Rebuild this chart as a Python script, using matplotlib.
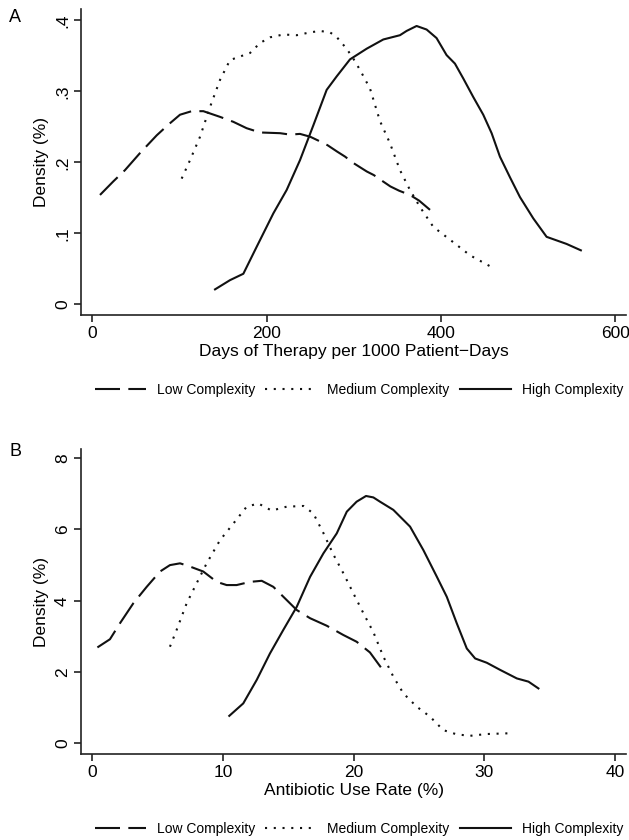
import matplotlib
matplotlib.use("Agg")
import matplotlib.pyplot as plt

plt.rcParams['font.family'] = ['Liberation Sans', 'DejaVu Sans']

# ---- panel A: days of therapy per 1000 patient-days ----
a_low_x = [8.8, 24, 37.5, 54.7, 73.9, 87.2, 100.6, 114, 127.4, 146.5, 161.8, 177.1,
           192.4, 215.4, 226.9, 238.3, 250, 262, 270, 281, 290, 299.5, 315, 323,
           330, 342, 352, 364.5, 375, 387.5]
a_low_y = [.154, .173, .189, .213, .238, .253, .267, .272, .272, .264, .257, .248,
           .242, .241, .239, .240, .236, .229, .224, .215, .208, .199, .187, .182,
           .176, .166, .160, .154, .146, .133]

a_med_x = [102.5, 112.1, 123.6, 135.1, 146.5, 158, 169.5, 181, 192.4, 203.9, 219.2,
           234.5, 249.8, 261.3, 272.7, 280, 291.8, 300, 307.2, 318.6, 330.1, 341.5,
           353, 364.5, 376, 391.3, 410.4, 433.4, 460.2]
a_med_y = [.177, .203, .236, .278, .316, .344, .349, .354, .368, .376, .380,
           .379, .383, .385, .383, .377, .360, .345, .330, .304, .258, .227,
           .189, .161, .137, .109, .091, .069, .051]

a_high_x = [140.8, 158, 173.3, 188.6, 207.7, 223, 238.3, 253.6, 268.9, 280.4, 295.7,
            314.8, 333.9, 353, 360.6, 372.1, 383.6, 395, 406.5, 416.1, 425.7, 437.1,
            448.6, 458.2, 467.7, 479.2, 490.7, 506, 521.3, 544.2, 560.6]
a_high_y = [.021, .034, .043, .081, .128, .161, .203, .252, .302, .321, .345,
            .360, .373, .379, .385, .392, .387, .375, .351, .339, .318, .292,
            .267, .241, .208, .179, .151, .121, .095, .085, .076]

a_xticks = [0, 200, 400, 600]
a_yticks = [0, .1, .2, .3, .4]
a_ytick_labels = ["0", ".1", ".2", ".3", ".4"]

# ---- panel B: antibiotic use rate ----
b_low_x = [0.39, 1.35, 2.12, 3.14, 4.16, 5.18, 5.94, 6.71, 7.47, 8.49, 9.52, 10.28,
           11.04, 12.07, 12.96, 13.85, 14.87, 15.64, 16.66, 17.93, 19.2, 20.22,
           21.24, 22.1]
b_low_y = [2.69, 2.92, 3.37, 3.93, 4.39, 4.82, 5.00, 5.05, 4.96, 4.82, 4.53, 4.44,
           4.44, 4.53, 4.56, 4.39, 4.02, 3.74, 3.51, 3.30, 3.04, 2.85, 2.55, 2.12]

b_med_x = [5.94, 6.45, 7.22, 7.98, 8.75, 9.77, 10.8, 11.81, 12.7, 13.72, 14.87,
           16.15, 16.91, 17.68, 18.44, 19.21, 19.97, 20.74, 21.5, 22.27, 23.03,
           23.8, 24.81, 25.83, 26.85, 27.88, 28.9, 30.17, 31.83]
b_med_y = [2.71, 3.18, 3.93, 4.49, 5.05, 5.70, 6.17, 6.64, 6.73, 6.53, 6.64,
           6.66, 6.45, 5.90, 5.30, 4.77, 4.21, 3.65, 3.12, 2.43, 1.87,
           1.40, 1.03, 0.75, 0.37, 0.25, 0.21, 0.26, 0.28]

b_high_x = [10.48, 11.55, 12.58, 13.59, 14.61, 15.64, 16.66, 17.68, 18.7, 19.47,
            20.22, 20.94, 21.5, 22.01, 23.03, 24.31, 25.33, 26.35, 27.12, 27.88,
            28.65, 29.29, 30.18, 31.2, 32.48, 33.37, 34.13]
b_high_y = [0.77, 1.12, 1.78, 2.52, 3.18, 3.83, 4.67, 5.33, 5.89, 6.50,
            6.78, 6.94, 6.90, 6.78, 6.55, 6.08, 5.42, 4.68, 4.11, 3.37,
            2.66, 2.38, 2.26, 2.06, 1.82, 1.73, 1.54]

b_xticks = [0, 10, 20, 30, 40]
b_yticks = [0, 2, 4, 6, 8]
b_ytick_labels = ["0", "2", "4", "6", "8"]

series_names = ["Low Complexity", "Medium Complexity", "High Complexity"]

W, H = 629, 840
fig = plt.figure(figsize=(W / 100, H / 100), dpi=100)

col = "#111111"
styles = [(0, (12, 4)), (0, (1, 3.2)), "-"]


def panel(rect, curves, xlim, ylim, xticks, yticks, ylabels, xlabel):
    ax = fig.add_axes(rect)
    for (x, y), ls, name in zip(curves, styles, series_names):
        ax.plot(x, y, color=col, lw=1.5, ls=ls, label=name)
    ax.set_xlim(*xlim)
    ax.set_ylim(*ylim)
    ax.set_xticks(xticks)
    ax.set_yticks(yticks)
    ax.set_yticklabels(ylabels, rotation=90, va="center")
    for s in ["top", "right"]:
        ax.spines[s].set_visible(False)
    for s in ["left", "bottom"]:
        ax.spines[s].set_linewidth(1.2)
        ax.spines[s].set_color("#222222")
    ax.tick_params(direction="out", length=5, width=1.2, color="#222222",
                   labelsize=12.5, pad=3)
    ax.set_xlabel(xlabel, fontsize=12.5, labelpad=2)
    ax.set_ylabel("Density (%)", fontsize=12.5, labelpad=4)
    # legend below the axis, same spread as the original
    ax.legend(loc="center", bbox_to_anchor=(0.51, -0.245), ncol=3, frameon=False,
              fontsize=10, handlelength=3.7, handletextpad=0.75,
              columnspacing=0.75, borderaxespad=0, borderpad=0)
    return ax


panel([81 / W, 1 - 315 / H, 545 / W, 305.7 / H],
      [(a_low_x, a_low_y), (a_med_x, a_med_y), (a_high_x, a_high_y)],
      (-13.0, 612.4), (-0.0151, 0.4155), a_xticks, a_yticks, a_ytick_labels,
      "Days of Therapy per 1000 Patient\u2212Days")

panel([81 / W, 1 - 754.3 / H, 545 / W, 305 / H],
      [(b_low_x, b_low_y), (b_med_x, b_med_y), (b_high_x, b_high_y)],
      (-0.865, 40.83), (-0.309, 8.25), b_xticks, b_yticks, b_ytick_labels,
      "Antibiotic Use Rate (%)")

fig.text(15 / W, 1 - 18 / H, "A", fontsize=13, ha="center", va="center")
fig.text(15 / W, 1 - 452 / H, "B", fontsize=13, ha="center", va="center")

fig.savefig("out.png", dpi=100)
